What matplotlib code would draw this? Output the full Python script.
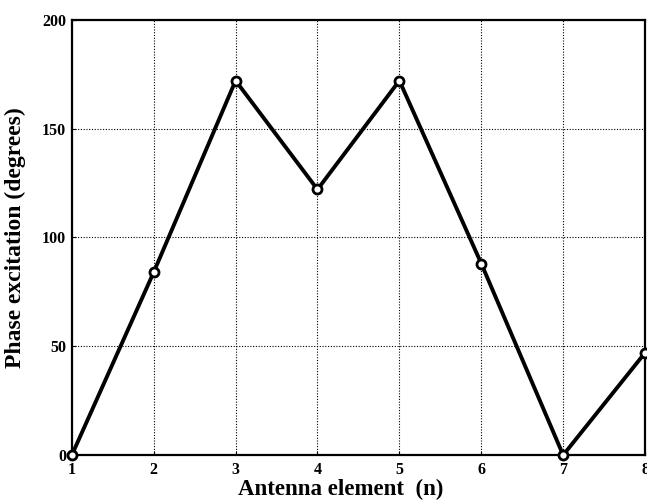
import matplotlib
matplotlib.use("Agg")
import matplotlib.pyplot as plt

elements = [1, 2, 3, 4, 5, 6, 7, 8]
phase_deg = [0, 84, 172, 122, 172, 88, 0, 47]
x_ticks = [1, 2, 3, 4, 5, 6, 7, 8]
y_ticks = [0, 50, 100, 150, 200]

plt.rcParams['font.family'] = ['Liberation Serif', 'DejaVu Serif']
plt.rcParams['font.weight'] = 'bold'

fig = plt.figure(figsize=(6.47, 5.04), dpi=100)
ax = fig.add_axes([0.111, 0.097, 0.886, 0.864])

ax.plot(elements, phase_deg, color='black', linewidth=2.8, marker='o',
        markersize=6.5, markerfacecolor='white', markeredgecolor='black',
        markeredgewidth=2.0, clip_on=False, zorder=3)

ax.set_xlim(1, 8)
ax.set_ylim(0, 200)
ax.set_xticks(x_ticks)
ax.set_yticks(y_ticks)
ax.set_xticklabels([str(v) for v in x_ticks], fontsize=11.5, fontweight='bold')
ax.set_yticklabels([str(v) for v in y_ticks], fontsize=11.5, fontweight='bold')
ax.grid(True, color='black', linestyle=(0, (1, 1.5)), linewidth=0.8)
ax.tick_params(direction='in', length=3, width=0.8)
ax.tick_params(axis='x', pad=5)
ax.tick_params(axis='y', pad=4)
for s in ax.spines.values():
    s.set_linewidth(1.6)

ax.set_xlabel('Antenna element  (n)', fontsize=16.5, fontweight='bold')
ax.xaxis.set_label_coords(0.469, -0.055, transform=ax.transAxes)
ax.xaxis.label.set_va('top')
ax.set_ylabel('Phase excitation (degrees)', fontsize=17, fontweight='bold')
ax.yaxis.set_label_coords(-0.098, 0.5, transform=ax.transAxes)
ax.yaxis.label.set_va('center')

fig.savefig('out.png', dpi=100)
